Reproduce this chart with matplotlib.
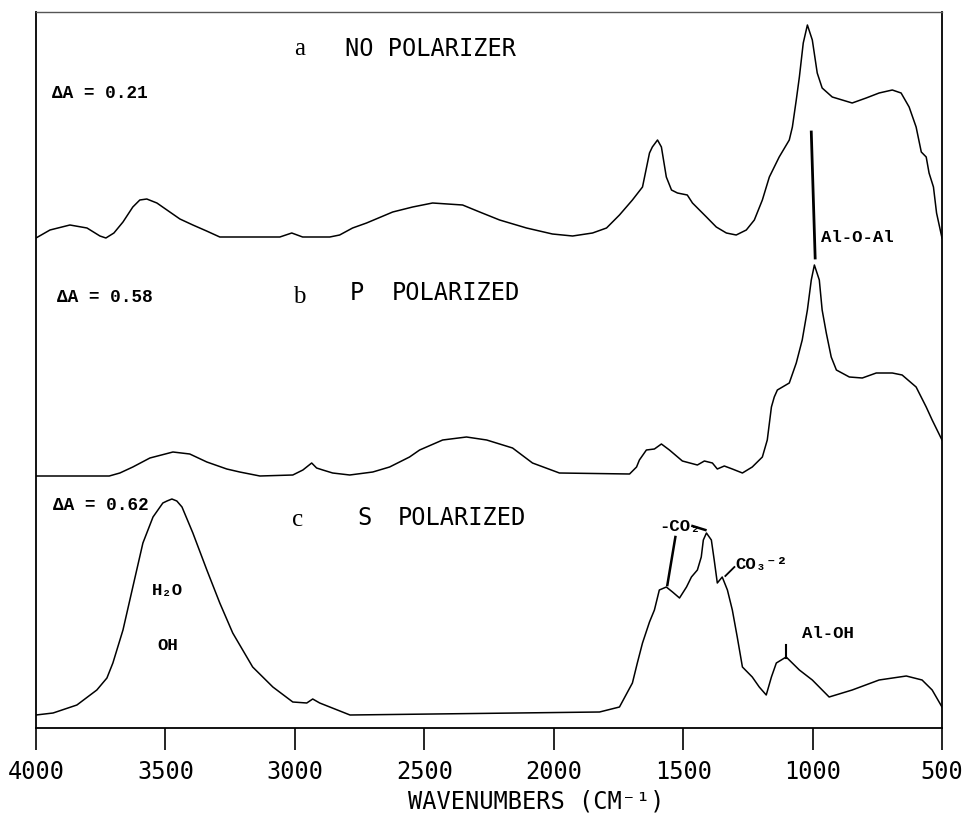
import matplotlib
import matplotlib.pyplot as plt

matplotlib.rcParams['xtick.direction'] = 'out'

# spectra: wavenumber (cm-1) and absorbance (arbitrary units, offset)
wn_a = [4000, 3946, 3869, 3803, 3753, 3730, 3699, 3664, 3626, 3599, 3572, 3533, 3483,
        3444, 3394, 3341, 3290, 3174, 3058, 3012, 2970, 2865, 2827, 2777, 2723, 2622,
        2545, 2468, 2352, 2286, 2209, 2105, 2005, 1927, 1850, 1796, 1746, 1696, 1657,
        1630, 1619, 1599, 1584, 1565, 1545, 1522, 1484, 1464, 1437, 1410, 1372, 1333,
        1295, 1256, 1225, 1194, 1167, 1129, 1090, 1078, 1063, 1051, 1036, 1020, 1001,
        982, 963, 924, 847, 793, 743, 692, 658, 627, 600, 580, 561, 550, 533, 521, 500]
abs_a = [490, 498, 503, 500, 492, 490, 495, 506, 521, 528, 529, 525, 516,
         509, 503, 497, 491, 491, 491, 495, 491, 491, 493, 500, 505, 516,
         521, 525, 523, 516, 508, 500, 494, 492, 495, 500, 513, 528, 541,
         575, 581, 588, 581, 551, 538, 535, 533, 525, 518, 511, 501, 495,
         493, 498, 508, 528, 551, 571, 588, 601, 628, 651, 685, 703, 688,
         655, 640, 631, 625, 630, 635, 638, 635, 621, 601, 576, 571, 555, 541, 515, 490]

wn_b = [4000, 3717, 3676, 3626, 3560, 3471, 3406, 3340, 3263, 3213, 3135, 3008, 2969,
        2935, 2916, 2892, 2854, 2788, 2699, 2634, 2557, 2518, 2429, 2337, 2259, 2159,
        2082, 1978, 1707, 1680, 1669, 1642, 1611, 1584, 1553, 1503, 1445, 1418, 1387,
        1368, 1341, 1310, 1271, 1233, 1194, 1175, 1159, 1148, 1136, 1090, 1063, 1040,
        1020, 1005, 993, 974, 963, 947, 928, 908, 858, 808, 754, 692, 654, 600, 561,
        538, 500]
abs_b = [252, 252, 255, 261, 270, 276, 274, 266, 259, 256, 252, 253, 258,
         265, 260, 258, 255, 253, 256, 261, 271, 278, 288, 291, 288, 280,
         265, 255, 254, 261, 268, 278, 279, 284, 278, 267, 263, 267, 265,
         259, 262, 259, 255, 261, 271, 288, 321, 331, 338, 345, 365, 388,
         418, 448, 463, 448, 418, 395, 371, 358, 351, 350, 355, 355, 353, 341, 321,
         308, 288]

wn_c = [4000, 3934, 3842, 3765, 3726, 3703, 3664, 3626, 3587, 3548, 3510, 3494, 3475,
        3456, 3436, 3394, 3340, 3290, 3240, 3163, 3085, 3008, 2954, 2931, 2904, 2865,
        2787, 1823, 1746, 1696, 1677, 1657, 1630, 1611, 1592, 1565, 1541, 1514, 1487,
        1468, 1445, 1430, 1422, 1410, 1391, 1380, 1368, 1349, 1329, 1310, 1291, 1271,
        1233, 1206, 1179, 1159, 1140, 1102, 1051, 1001, 936, 847, 743, 638, 577, 538, 500]
abs_c = [13, 15, 23, 38, 50, 65, 98, 141, 185, 211, 225, 227, 229,
         227, 221, 195, 158, 125, 95, 61, 41, 26, 25, 29, 25, 21,
         13, 16, 21, 45, 65, 85, 106, 118, 138, 141, 136, 130, 141,
         151, 158, 171, 188, 195, 188, 168, 145, 151, 138, 118, 91, 61,
         51, 41, 33, 51, 65, 71, 58, 48, 31, 38, 48, 52, 48, 38, 21]

xticks = [4000, 3500, 3000, 2500, 2000, 1500, 1000, 500]

mono = ['DejaVu Sans Mono']
bold_mono = ['Liberation Mono', 'DejaVu Sans Mono']
serif = ['Liberation Serif', 'DejaVu Serif']

fig = plt.figure(figsize=(9.68, 8.17), dpi=100)
ax = fig.add_axes([36 / 968, 1 - 728 / 817, 906 / 968, 716 / 817])

lw = 1.1
ax.plot(wn_a, abs_a, color='k', lw=lw)
ax.plot(wn_b, abs_b, color='k', lw=lw)
ax.plot(wn_c, abs_c, color='k', lw=lw)

ax.set_xlim(4000, 500)
ax.set_ylim(0, 716)
ax.set_xticks(xticks)
ax.set_xticklabels([str(t) for t in xticks], family=mono, fontsize=17)
ax.tick_params(axis='x', length=15.8, width=1.2, pad=7)
ax.set_yticks([])
for s in ['left', 'right', 'bottom']:
    ax.spines[s].set_linewidth(1.3)
ax.spines['top'].set_linewidth(1.0)
ax.spines['top'].set_color('#555555')

# panel titles
ax.text(2981, 679, 'a', family=serif, fontsize=18, ha='center', va='center')
ax.text(2807, 679, 'NO POLARIZER', family=mono, fontsize=17, ha='left', va='center')
ax.text(2981, 431, 'b', family=serif, fontsize=18, ha='center', va='center')
ax.text(2788, 435, 'P', family=mono, fontsize=17, ha='left', va='center')
ax.text(2626, 435, 'POLARIZED', family=mono, fontsize=17, ha='left', va='center')
ax.text(2989, 208, 'c', family=serif, fontsize=18, ha='center', va='center')
ax.text(2757, 210, 'S', family=mono, fontsize=17, ha='left', va='center')
ax.text(2603, 210, 'POLARIZED', family=mono, fontsize=17, ha='left', va='center')

# scale labels
ax.text(3938, 635, 'ΔA = 0.21', family=bold_mono, weight='bold', fontsize=12.8,
        ha='left', va='center')
ax.text(3919, 430, 'ΔA = 0.58', family=bold_mono, weight='bold', fontsize=12.8,
        ha='left', va='center')
ax.text(3934, 223, 'ΔA = 0.62', family=bold_mono, weight='bold', fontsize=12.8,
        ha='left', va='center')

# band assignments
ax.text(3491, 138, 'H₂O', family=bold_mono, weight='bold', fontsize=12.5,
        ha='center', va='center')
ax.text(3491, 82, 'OH', family=bold_mono, weight='bold', fontsize=12.5,
        ha='center', va='center')

ax.plot([1005, 990], [596, 470], color='k', lw=2)
ax.text(967, 490, 'Al-O-Al', family=bold_mono, weight='bold', fontsize=12.5,
        ha='left', va='center')

ax.text(1594, 201, '-CO₂', family=bold_mono, weight='bold', fontsize=12.5,
        ha='left', va='center')
ax.plot([1464, 1414], [202, 198], color='k', lw=1.8)
ax.plot([1530, 1561], [191, 143], color='k', lw=1.8)

ax.plot([1337, 1302], [152, 161], color='k', lw=1.3)
ax.text(1298, 163, 'CO₃⁻²', family=bold_mono, weight='bold', fontsize=12.5,
        ha='left', va='center')

ax.plot([1102, 1102], [70, 83], color='k', lw=1.5)
ax.text(1040, 94, 'Al-OH', family=bold_mono, weight='bold', fontsize=12.5,
        ha='left', va='center')

fig.text(536 / 968, 1 - 801 / 817, 'WAVENUMBERS (CM⁻¹)', family=mono, fontsize=17,
         ha='center', va='center')

fig.savefig('out.png', dpi=100)
